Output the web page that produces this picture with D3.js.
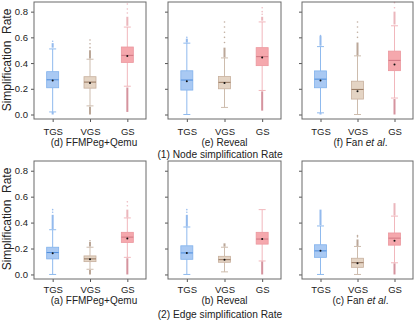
<!DOCTYPE html>
<html><head><meta charset="utf-8">
<script src="https://cdn.jsdelivr.net/npm/d3@7"></script>
<style>html,body{margin:0;padding:0;background:#fff;}svg{display:block;font-family:"Liberation Sans",Arial,sans-serif;}</style>
</head><body>
<svg id="c" width="415" height="321"></svg>
<script>
// ---- data ----
const categories = ["TGS", "VGS", "GS"];
const yTicks = [0.0, 0.2, 0.4, 0.6, 0.8];
const yTickLabels = ["0.0", "0.2", "0.4", "0.6", "0.8"];
const panelTitles = [["(d) FFMPeg+Qemu", "(e) Reveal", "(f) Fan "], ["(a) FFMPeg+Qemu", "(b) Reveal", "(c) Fan "]];
const rowTitles = ["(1) Node simplification Rate", "(2) Edge simplification Rate"];
const yTitle = "Simplification  Rate";

// stats per box: [lo whisker, q1, median, q3, hi whisker, mean]
const nodeFFMPeg = [[0.02, 0.208, 0.27, 0.333, 0.51, 0.265], [0.067, 0.205, 0.252, 0.294, 0.43, 0.245], [0.22, 0.405, 0.46, 0.525, 0.68, 0.455]];
const nodeReveal = [[0.0, 0.19, 0.268, 0.34, 0.555, 0.258], [0.055, 0.2, 0.25, 0.295, 0.44, 0.245], [0.187, 0.38, 0.45, 0.52, 0.72, 0.443]];
const nodeFan = [[0.013, 0.208, 0.275, 0.339, 0.528, 0.264], [0.0, 0.12, 0.195, 0.259, 0.456, 0.181], [0.128, 0.341, 0.421, 0.493, 0.69, 0.389]];
const edgeFFMPeg = [[0.0, 0.12, 0.169, 0.21, 0.345, 0.164], [0.04, 0.099, 0.12, 0.143, 0.21, 0.117], [0.132, 0.247, 0.288, 0.325, 0.436, 0.278]];
const edgeReveal = [[0.0, 0.117, 0.166, 0.221, 0.366, 0.166], [0.02, 0.094, 0.114, 0.14, 0.21, 0.114], [0.104, 0.234, 0.273, 0.325, 0.50, 0.273]];
const edgeFan = [[0.0, 0.132, 0.182, 0.229, 0.374, 0.182], [0.0, 0.055, 0.091, 0.125, 0.216, 0.086], [0.09, 0.226, 0.28, 0.32, 0.45, 0.26]];

// dense outlier ranges: [low range or null, high range or null]
const nodeFFMPegOut = [[[0.0, 0.018], [0.52, 0.555]], [[0.0, 0.06], [0.435, 0.5]], [[0.02, 0.21], [0.69, 0.76]]];
const nodeRevealOut = [[null, [0.56, 0.59]], [null, [0.445, 0.52]], [[0.03, 0.18], [0.73, 0.76]]];
const nodeFanOut = [[[0.0, 0.01], [0.535, 0.61]], [null, [0.46, 0.56]], [[0.0, 0.12], [0.70, 0.80]]];
const edgeFFMPegOut = [[null, [0.35, 0.46]], [[0.0, 0.035], [0.215, 0.25]], [[0.0, 0.125], [0.44, 0.5]]];
const edgeRevealOut = [[null, [0.37, 0.46]], [null, [0.215, 0.24]], [[0.0, 0.1], null]];
const edgeFanOut = [[null, [0.38, 0.5]], [null, [0.22, 0.27]], [[0.0, 0.085], [0.455, 0.55]]];

// sparse outlier points
const nodeFFMPegPts = [[0.57], [0.52, 0.55, 0.58], [0.79, 0.82, 0.86]];
const nodeRevealPts = [[0.6], [0.56, 0.6, 0.64, 0.68, 0.72], [0.78, 0.8, 0.83]];
const nodeFanPts = [[0.615], [0.6, 0.64, 0.68, 0.72], [0.83, 0.87]];
const edgeFFMPegPts = [[0.48, 0.5], [0.26], [0.53, 0.56]];
const edgeRevealPts = [[0.48, 0.5], [], []];
const edgeFanPts = [[], [0.29, 0.3], []];

const rows = [
  [[nodeFFMPeg, nodeFFMPegOut, nodeFFMPegPts], [nodeReveal, nodeRevealOut, nodeRevealPts], [nodeFan, nodeFanOut, nodeFanPts]],
  [[edgeFFMPeg, edgeFFMPegOut, edgeFFMPegPts], [edgeReveal, edgeRevealOut, edgeRevealPts], [edgeFan, edgeFanOut, edgeFanPts]]
];

// ---- layout & style ----
const colX = [[34, 146], [168, 281], [302, 413]];
const rowY = [[2, 119], [161, 279]];
const catOff = [16.3, 14];
const subOff = [27.3, 25];
const rowOff = [38.8, 39];
const subShift = [4, 0, 3];
const styles = {
  TGS: {fill: "#a9c9f3", stroke: "#80b1ec", med: "#4c8cdc", wh: "#8fbaee", outHi: "#6fa3e8", outLo: "#6fa3e8"},
  VGS: {fill: "#e4d4c4", stroke: "#c7b09d", med: "#95765f", wh: "#cdbcad", outHi: "#a58a76", outLo: "#a58a76"},
  GS:  {fill: "#f5a8ad", stroke: "#eb979e", med: "#d07682", wh: "#f1b7bc", outHi: "#e59ea6", outLo: "#c8707e"}
};

const svg = d3.select("#c");

rows.forEach((row, ri) => {
  const [y0, y1] = rowY[ri];
  const y = d3.scaleLinear().domain([-0.035, 0.875]).range([y1, y0]);
  row.forEach((panel, ci) => {
    const [x0, x1] = colX[ci];
    const x = d3.scalePoint().domain(categories).range([x0, x1]).padding(0.5);
    const g = svg.append("g");
    const [stats, outs, pts] = panel;

    const yAxis = d3.axisLeft(y).tickValues(yTicks).tickSize(3).tickPadding(3)
      .tickFormat((d, i) => ci === 0 ? yTickLabels[i] : "");
    const ya = g.append("g").attr("transform", `translate(${x0},0)`).call(yAxis);
    ya.select(".domain").remove();
    ya.selectAll("line").attr("stroke", "#555");
    ya.selectAll("text").attr("font-size", 9.5).attr("fill", "#222");

    const xAxis = d3.axisBottom(x).tickSize(3);
    const xa = g.append("g").attr("transform", `translate(0,${y1})`).call(xAxis);
    xa.select(".domain").remove();
    xa.selectAll("line").attr("stroke", "#555");
    xa.selectAll("text").attr("font-size", 9.5).attr("fill", "#222").attr("y", catOff[ri]).attr("dy", null);

    const bw = 12, cw = 7;
    categories.forEach((cat, k) => {
      const [lo, q1, med, q3, hi, mean] = stats[k];
      const s = styles[cat];
      const cx = x(cat);
      const [oLo, oHi] = outs[k];
      g.append("line").attr("x1", cx).attr("x2", cx).attr("y1", y(q3)).attr("y2", y(hi)).attr("stroke", s.wh).attr("stroke-width", 1);
      g.append("line").attr("x1", cx).attr("x2", cx).attr("y1", y(q1)).attr("y2", y(lo)).attr("stroke", s.wh).attr("stroke-width", 1);
      [lo, hi].forEach(v => g.append("line").attr("x1", cx - cw / 2).attr("x2", cx + cw / 2).attr("y1", y(v)).attr("y2", y(v)).attr("stroke", s.wh).attr("stroke-width", 1));
      if (oHi) g.append("line").attr("x1", cx).attr("x2", cx).attr("y1", y(oHi[0])).attr("y2", y(oHi[1])).attr("stroke", s.outHi).attr("stroke-width", 2).attr("opacity", 0.75);
      if (oLo) g.append("line").attr("x1", cx).attr("x2", cx).attr("y1", y(oLo[0])).attr("y2", y(oLo[1])).attr("stroke", s.outLo).attr("stroke-width", 2).attr("opacity", 0.75);
      pts[k].forEach(v => g.append("circle").attr("cx", cx).attr("cy", y(v)).attr("r", 0.8).attr("fill", s.outHi).attr("opacity", 0.7));
      g.append("rect").attr("x", cx - bw / 2).attr("width", bw).attr("y", y(q3)).attr("height", y(q1) - y(q3))
        .attr("fill", s.fill).attr("stroke", s.stroke).attr("stroke-width", 0.8);
      g.append("line").attr("x1", cx - bw / 2).attr("x2", cx + bw / 2).attr("y1", y(med)).attr("y2", y(med)).attr("stroke", s.med).attr("stroke-width", 1);
      g.append("circle").attr("cx", cx).attr("cy", y(mean)).attr("r", 1).attr("fill", "#111");
    });

    g.append("rect").attr("x", x0).attr("y", y0).attr("width", x1 - x0).attr("height", y1 - y0)
      .attr("fill", "none").attr("stroke", "#6a6a6a").attr("stroke-width", 1);

    const t = g.append("text").attr("x", (x0 + x1) / 2 + subShift[ci]).attr("y", y1 + subOff[ri]).attr("text-anchor", "middle")
      .attr("font-size", 10).attr("fill", "#222").text(panelTitles[ri][ci]);
    if (ci === 2) t.append("tspan").attr("font-style", "italic").text("et al");
    if (ci === 2) t.append("tspan").text(".");
  });
  svg.append("text").attr("transform", `translate(10.5,${(y0 + y1) / 2 + (ri === 0 ? -0.5 : -1)}) rotate(-90)`).attr("text-anchor", "middle")
    .attr("font-size", 12).attr("fill", "#222").style("white-space", "pre").text(yTitle);
  svg.append("text").attr("x", 220).attr("y", y1 + rowOff[ri]).attr("text-anchor", "middle")
    .attr("font-size", 10.2).attr("fill", "#222").text(rowTitles[ri]);
});
</script>
</body></html>
